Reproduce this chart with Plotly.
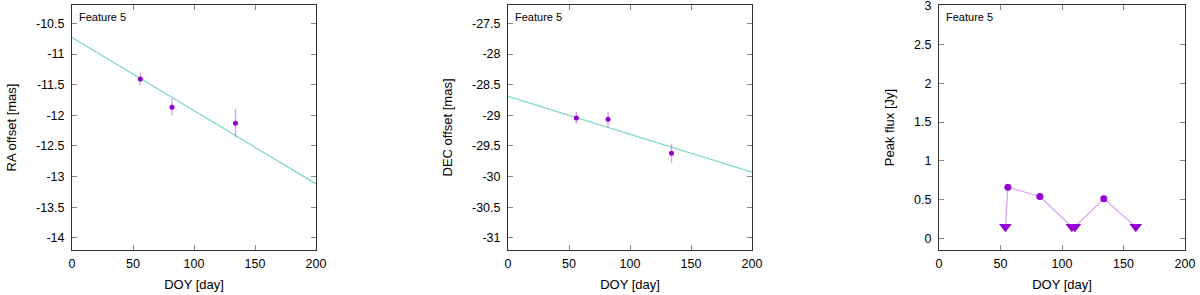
import plotly.graph_objects as go

# ---- data ----
doy = [56, 82, 134]
ra = [-11.41, -11.87, -12.13]
ra_err = [0.10, 0.135, 0.235]
ra_fit_x = [0, 200]
ra_fit_y = [-10.73, -13.12]

dec = [-29.045, -29.065, -29.62]
dec_err = [0.10, 0.125, 0.155]
dec_fit_x = [0, 200]
dec_fit_y = [-28.69, -29.93]

flux_all_doy = [54, 56, 82, 108, 110.5, 134, 160]
flux_all = [0.15, 0.66, 0.54, 0.15, 0.15, 0.51, 0.15]
flux_det_doy = [56, 82, 134]
flux_det = [0.66, 0.54, 0.51]
flux_lim_doy = [54, 108, 110.5, 160]
flux_lim = [0.15, 0.15, 0.15, 0.15]

x_ticks = [0, 50, 100, 150, 200]
ra_ticks = [-10.5, -11, -11.5, -12, -12.5, -13, -13.5, -14]
dec_ticks = [-27.5, -28, -28.5, -29, -29.5, -30, -30.5, -31]
flux_ticks = [0, 0.5, 1, 1.5, 2, 2.5, 3]

PURPLE = "#9400d3"
PURPLE_L = "rgba(148,0,211,0.35)"
TEAL = "rgb(128,218,192)"
FONT = "Liberation Sans, Arial, Helvetica, sans-serif"

W, H = 1200, 295
doms = [(72 / W, 316 / W), (508 / W, 752 / W), (939 / W, 1185 / W)]

fig = go.Figure()

# panel 1
fig.add_trace(go.Scatter(x=ra_fit_x, y=ra_fit_y, mode="lines",
                         line=dict(color=TEAL, width=1.3), xaxis="x", yaxis="y",
                         showlegend=False))
fig.add_trace(go.Scatter(x=doy, y=ra, mode="markers",
                         marker=dict(color=PURPLE, size=5),
                         error_y=dict(type="data", array=ra_err, color=PURPLE_L,
                                      thickness=1.5, width=0),
                         xaxis="x", yaxis="y", showlegend=False))
# panel 2
fig.add_trace(go.Scatter(x=dec_fit_x, y=dec_fit_y, mode="lines",
                         line=dict(color=TEAL, width=1.3), xaxis="x2", yaxis="y2",
                         showlegend=False))
fig.add_trace(go.Scatter(x=doy, y=dec, mode="markers",
                         marker=dict(color=PURPLE, size=5),
                         error_y=dict(type="data", array=dec_err, color=PURPLE_L,
                                      thickness=1.5, width=0),
                         xaxis="x2", yaxis="y2", showlegend=False))
# panel 3
fig.add_trace(go.Scatter(x=flux_all_doy, y=flux_all, mode="lines",
                         line=dict(color=PURPLE_L, width=1.3), xaxis="x3", yaxis="y3",
                         showlegend=False))
fig.add_trace(go.Scatter(x=flux_det_doy, y=flux_det, mode="markers",
                         marker=dict(color=PURPLE, size=7),
                         xaxis="x3", yaxis="y3", showlegend=False))
fig.add_trace(go.Scatter(x=flux_lim_doy, y=flux_lim, mode="markers",
                         marker=dict(color=PURPLE, size=11, symbol="triangle-down"),
                         xaxis="x3", yaxis="y3", showlegend=False))

axis_common = dict(
    showline=True, linecolor="#333", linewidth=1, mirror="ticks",
    ticks="inside", ticklen=5, tickcolor="#888", tickwidth=1,
    showgrid=False, zeroline=False, automargin=False,
    ticklabeloverflow="allow",
    tickfont=dict(family=FONT, size=12.5, color="black"),
    title_font=dict(family=FONT, size=13, color="black"),
)

layout = dict(
    width=W, height=H,
    margin=dict(l=0, r=0, t=5, b=45),
    paper_bgcolor="white", plot_bgcolor="white",
    font=dict(family=FONT, color="black"),
)
ylabels = ["RA offset [mas]", "DEC offset [mas]", "Peak flux [Jy]"]
yranges = [[-14.2, -10.2], [-31.2, -27.2], [-0.15, 3.01]]
yticks = [ra_ticks, dec_ticks, flux_ticks]
for i in range(3):
    sfx = "" if i == 0 else str(i + 1)
    layout["xaxis" + sfx] = dict(
        axis_common, domain=list(doms[i]), range=[0, 200],
        tickvals=x_ticks, anchor="y" + sfx, ticklabelstandoff=2,
        title=dict(text="DOY [day]", standoff=9),
    )
    layout["yaxis" + sfx] = dict(
        axis_common, domain=[0, 1], range=yranges[i],
        tickvals=yticks[i], ticktext=[("%g" % v) for v in yticks[i]],
        anchor="x" + sfx, ticklabelstandoff=4,
        title=dict(text=ylabels[i], standoff=16),
    )
fig.update_layout(**layout)

for i in range(3):
    sfx = "" if i == 0 else str(i + 1)
    fig.add_annotation(text="Feature 5", xref="x" + sfx + " domain",
                       yref="y" + sfx + " domain", x=0.022, y=0.95,
                       xanchor="left", yanchor="middle", showarrow=False,
                       font=dict(family=FONT, size=11, color="black"))

fig.write_html(
    "out.html",
    config={"displayModeBar": False},
    post_script="document.body.style.margin='0';"
                "document.documentElement.style.overflow='hidden';",
)
